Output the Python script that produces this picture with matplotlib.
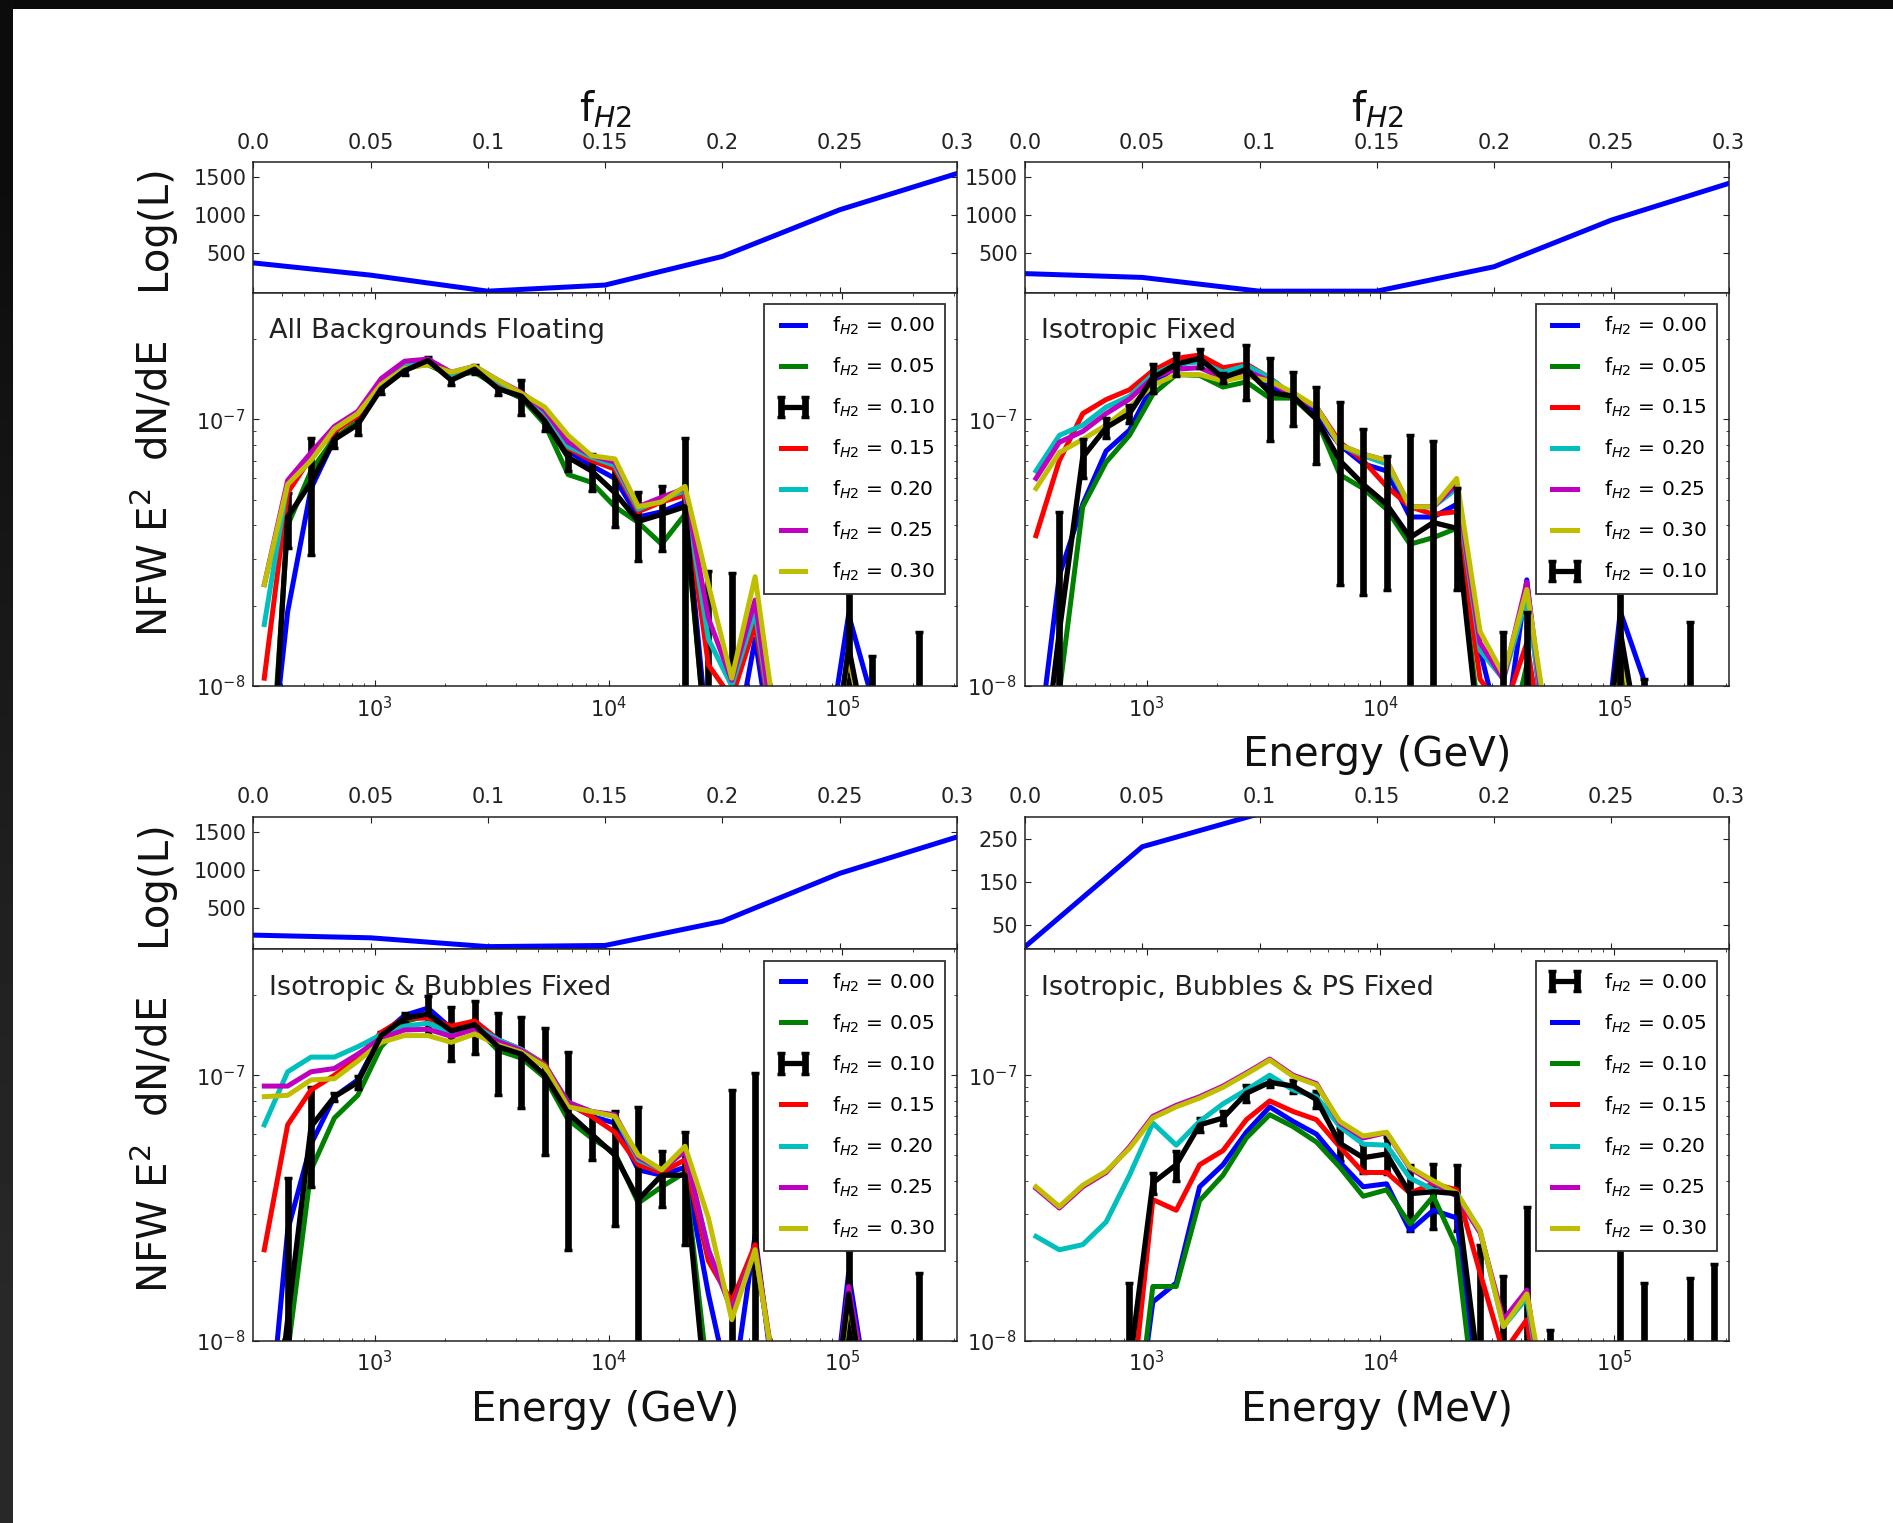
import numpy as np
import matplotlib
matplotlib.use("Agg")
import matplotlib.pyplot as plt
from matplotlib.ticker import FixedLocator, FixedFormatter, NullFormatter

# energy bin centres (MeV)
energy = [336.5, 423.6, 533.3, 671.4, 845.3, 1064, 1340, 1687, 2123, 2673,
          3365, 4236, 5333, 6714, 8453, 10640, 13400, 16870, 21230, 26730,
          33650, 42360, 53330, 67140, 84530, 106400, 134000, 168700, 212300, 267300]

# f_H2 scan for the Log(L) insets
f_h2 = [0.0, 0.05, 0.10, 0.15, 0.20, 0.25, 0.30]
f_ticklabels = ["0.0", "0.05", "0.1", "0.15", "0.2", "0.25", "0.3"]

loglike_tl = [370, 210, 0, 80, 455, 1065, 1540]
loglike_tr = [230, 180, 0, 0, 320, 930, 1410]
loglike_bl = [150, 115, 0, 15, 330, 955, 1430]
loglike_br = [0, 233, 310, 420, 610, 900, 1250]

# NFW spectra, in units of 1e-8
# --- All Backgrounds Floating
tl_b = [0.3, 1.9, 5.5, 8.4, 9.8, 13.2, 15.5, 16.9, 14.3, 15.6, 13.2, 12.0, 10.2, 7.6, 6.7, 6.0, 4.3, 4.5, 4.9, 0.6, 0.5, 1.5, 0.4, 0.4, 0.5, 1.85, 0.9, 0.4, 0.3, 0.3]
tl_g = [0.2, 4.0, 6.4, 8.5, 9.8, 13.5, 15.8, 16.0, 14.6, 15.0, 13.2, 12.0, 9.6, 6.2, 5.8, 4.7, 4.1, 3.4, 4.4, 0.5, 0.4, 0.6, 0.3, 0.3, 0.3, 1.2, 0.4, 0.3, 0.3, 0.3]
tl_k = [0.15, 4.3, 5.8, 8.4, 9.55, 13.0, 15.2, 16.6, 14.0, 15.4, 13.0, 12.2, 9.85, 7.2, 6.4, 5.3, 4.14, 4.4, 4.7, 0.5, 0.4, 0.3, 0.3, 0.3, 0.3, 1.4, 0.5, 0.3, 0.3, 0.3]
tl_k_err = [0.1, 1.0, 2.7, 0.6, 0.8, 0.6, 0.6, 0.5, 0.6, 0.6, 0.7, 1.8, 0.8, 0.8, 1.0, 1.35, 1.2, 1.2, 3.8, 2.2, 2.25, 0.3, 0.3, 0.3, 0.3, 0.9, 0.8, 0.2, 1.3, 0.2]
tl_r = [1.07, 5.3, 7.2, 9.0, 10.3, 13.6, 16.0, 16.5, 14.6, 15.6, 13.6, 12.3, 10.4, 7.8, 7.0, 6.5, 4.5, 4.9, 5.2, 1.2, 0.9, 1.7, 0.5, 0.4, 0.4, 1.3, 0.5, 0.3, 0.3, 0.3]
tl_c = [1.7, 5.8, 7.3, 9.2, 10.5, 13.8, 16.2, 16.4, 14.7, 15.6, 13.8, 12.4, 10.6, 7.9, 7.2, 6.7, 4.6, 5.0, 5.4, 1.5, 1.0, 1.9, 0.5, 0.4, 0.4, 1.3, 0.5, 0.3, 0.3, 0.3]
tl_m = [2.4, 5.9, 7.5, 9.4, 10.7, 14.2, 16.5, 16.8, 15.0, 15.8, 14.0, 12.6, 10.8, 8.2, 7.3, 6.9, 4.7, 5.1, 5.5, 1.8, 1.05, 2.1, 0.5, 0.4, 0.4, 1.3, 0.5, 0.3, 0.3, 0.3]
tl_y = [2.4, 5.7, 7.0, 9.2, 10.5, 13.5, 15.5, 16.0, 15.0, 15.8, 14.0, 12.5, 11.1, 8.7, 7.3, 7.1, 4.7, 4.9, 5.6, 2.4, 1.07, 2.57, 0.6, 0.4, 0.4, 1.3, 0.5, 0.3, 0.3, 0.3]

# --- Isotropic Fixed
tr_b = [0.5, 2.6, 4.8, 7.6, 9.1, 13.5, 15.8, 16.9, 14.5, 15.6, 13.2, 12.4, 10.4, 8.0, 6.8, 6.4, 4.3, 4.3, 4.8, 1.36, 0.6, 2.5, 0.4, 0.3, 0.3, 1.9, 1.06, 0.4, 0.3, 0.3]
tr_g = [0.3, 0.95, 4.7, 6.9, 8.7, 12.4, 14.7, 14.6, 13.2, 13.8, 12.0, 12.0, 10.0, 6.2, 5.5, 4.6, 3.4, 3.6, 3.9, 0.7, 0.5, 1.2, 0.4, 0.3, 0.3, 1.3, 0.5, 0.3, 0.3, 0.3]
tr_r = [3.66, 7.0, 10.5, 11.85, 12.9, 15.2, 16.9, 17.4, 15.6, 16.1, 14.3, 12.2, 11.1, 8.2, 7.0, 5.6, 4.7, 4.4, 4.5, 1.06, 0.8, 1.45, 0.4, 0.3, 0.3, 1.4, 0.5, 0.3, 0.3, 0.3]
tr_c = [6.4, 8.7, 9.5, 11.1, 12.2, 14.7, 16.1, 16.4, 15.0, 15.9, 14.3, 12.2, 11.1, 8.0, 7.3, 6.8, 4.7, 4.7, 5.5, 1.36, 1.06, 2.15, 0.5, 0.3, 0.3, 1.4, 0.5, 0.3, 0.3, 0.3]
tr_m = [6.0, 8.2, 9.0, 10.5, 11.9, 14.3, 15.4, 15.6, 14.3, 15.2, 13.9, 12.2, 11.1, 8.0, 7.4, 7.0, 4.7, 4.7, 5.7, 1.45, 1.06, 2.45, 0.5, 0.3, 0.3, 1.4, 0.5, 0.3, 0.3, 0.3]
tr_y = [5.5, 7.5, 8.4, 9.5, 11.1, 13.4, 14.7, 14.7, 13.9, 14.5, 13.9, 12.6, 11.1, 8.0, 7.4, 7.0, 4.7, 4.7, 6.0, 1.6, 1.1, 2.3, 0.6, 0.3, 0.3, 1.4, 0.5, 0.3, 0.3, 0.3]
tr_k = [0.3, 1.6, 7.2, 9.3, 10.5, 14.3, 16.1, 16.9, 14.3, 15.4, 12.6, 12.2, 10.0, 7.0, 5.7, 4.8, 3.6, 4.1, 3.9, 0.6, 0.6, 1.0, 0.5, 0.3, 0.3, 1.6, 0.5, 0.3, 0.3, 0.3]
tr_k_err = [0.1, 2.9, 1.2, 0.8, 0.8, 1.8, 1.6, 1.4, 0.6, 3.6, 4.3, 2.8, 3.2, 4.6, 3.5, 2.5, 5.1, 4.2, 1.6, 0.3, 1.0, 0.9, 0.2, 0.2, 0.2, 0.8, 0.56, 0.2, 1.44, 0.2]

# --- Isotropic & Bubbles Fixed
bl_b = [0.3, 2.6, 5.5, 8.3, 9.6, 14.1, 16.8, 17.9, 15.0, 16.0, 13.6, 12.3, 10.8, 7.8, 7.0, 6.6, 4.4, 4.2, 4.5, 1.5, 0.6, 2.5, 0.5, 0.3, 0.3, 1.8, 0.5, 0.3, 0.3, 0.3]
bl_g = [0.2, 0.9, 4.4, 6.9, 8.4, 12.8, 15.9, 16.8, 14.3, 15.3, 12.4, 11.6, 9.8, 6.8, 5.8, 5.1, 3.3, 3.8, 4.3, 0.7, 0.5, 1.0, 0.3, 0.3, 0.3, 1.2, 0.4, 0.3, 0.3, 0.3]
bl_k = [0.2, 1.2, 6.4, 8.3, 9.4, 14.1, 16.4, 17.0, 14.7, 15.5, 12.8, 12.0, 10.0, 7.2, 6.0, 5.0, 3.4, 4.2, 4.2, 0.5, 0.3, 1.0, 0.3, 0.3, 0.3, 1.5, 0.4, 0.3, 0.3, 0.3]
bl_k_err = [0.1, 2.9, 2.6, 0.3, 0.5, 0.5, 0.8, 2.8, 3.4, 3.5, 4.4, 4.5, 5.0, 5.0, 1.2, 2.3, 4.2, 1.0, 1.9, 0.2, 8.5, 9.2, 0.2, 0.2, 0.2, 0.7, 0.2, 0.2, 1.5, 0.2]
bl_r = [2.2, 6.5, 8.8, 10.0, 11.6, 14.5, 16.4, 16.4, 15.3, 16.0, 13.6, 12.5, 11.0, 7.8, 7.0, 6.1, 4.6, 4.3, 4.8, 2.0, 1.4, 2.3, 0.6, 0.3, 0.3, 1.5, 0.5, 0.3, 0.3, 0.3]
bl_c = [6.5, 10.3, 11.7, 11.7, 12.8, 14.2, 15.3, 15.7, 14.4, 15.3, 13.6, 12.5, 10.9, 7.9, 7.3, 7.0, 4.8, 4.4, 5.2, 2.2, 1.3, 2.2, 0.6, 0.3, 0.3, 1.5, 0.5, 0.3, 0.3, 0.3]
bl_m = [9.1, 9.1, 10.3, 10.6, 12.0, 13.8, 14.8, 14.9, 14.0, 14.9, 13.4, 12.4, 10.9, 7.9, 7.3, 7.1, 4.9, 4.4, 5.2, 2.2, 1.3, 2.2, 0.6, 0.3, 0.3, 1.6, 0.5, 0.3, 0.3, 0.3]
bl_y = [8.3, 8.4, 9.6, 9.7, 11.3, 13.3, 14.1, 14.1, 13.3, 14.3, 13.0, 12.2, 10.8, 7.6, 7.3, 7.0, 5.0, 4.4, 5.4, 2.9, 1.2, 2.2, 0.6, 0.3, 0.3, 1.4, 0.5, 0.3, 0.3, 0.3]

# --- Isotropic, Bubbles & PS Fixed
br_k = [0.3, 0.3, 0.3, 0.3, 0.8, 3.93, 4.6, 6.5, 6.9, 8.55, 9.4, 9.1, 8.1, 5.54, 4.89, 5.05, 3.58, 3.64, 3.58, 0.7, 0.5, 0.8, 0.4, 0.3, 0.3, 0.5, 0.4, 0.3, 0.3, 0.3]
br_k_err = [0.1, 0.1, 0.1, 0.1, 0.85, 0.35, 0.6, 0.4, 0.4, 0.6, 0.4, 0.5, 0.6, 0.8, 0.6, 0.8, 1.0, 1.0, 1.0, 1.6, 1.25, 2.4, 0.7, 0.1, 0.1, 2.6, 1.25, 0.1, 1.42, 1.65]
br_b = [0.3, 0.3, 0.3, 0.3, 0.3, 1.4, 1.65, 3.8, 4.6, 6.1, 7.6, 6.7, 6.0, 4.7, 3.8, 3.9, 2.6, 3.1, 2.9, 0.5, 0.3, 0.4, 0.3, 0.3, 0.3, 0.3, 0.3, 0.3, 0.3, 0.3]
br_g = [0.3, 0.3, 0.3, 0.3, 0.3, 1.6, 1.6, 3.37, 4.2, 5.8, 7.1, 6.4, 5.6, 4.5, 3.5, 3.7, 2.75, 3.5, 2.25, 0.4, 0.3, 0.3, 0.3, 0.3, 0.3, 0.3, 0.3, 0.3, 0.3, 0.3]
br_r = [0.3, 0.3, 0.3, 0.3, 0.5, 3.4, 3.1, 4.6, 5.2, 6.8, 8.0, 7.3, 6.8, 5.37, 4.3, 4.3, 3.6, 3.9, 3.7, 1.8, 0.9, 1.2, 0.3, 0.3, 0.3, 0.3, 0.3, 0.3, 0.3, 0.3]
br_c = [2.47, 2.2, 2.3, 2.8, 4.2, 6.6, 5.45, 6.7, 7.8, 8.8, 10.0, 8.8, 8.3, 6.4, 5.5, 5.45, 4.1, 3.7, 3.6, 2.6, 1.13, 1.45, 0.4, 0.3, 0.3, 0.3, 0.3, 0.3, 0.3, 0.3]
br_m = [3.75, 3.16, 3.8, 4.3, 5.37, 7.0, 7.7, 8.3, 9.1, 10.2, 11.5, 10.0, 9.3, 6.6, 5.8, 6.08, 4.46, 3.93, 3.5, 2.55, 1.2, 1.55, 0.4, 0.3, 0.3, 0.3, 0.3, 0.3, 0.3, 0.3]
br_y = [3.8, 3.2, 3.85, 4.35, 5.3, 6.9, 7.6, 8.2, 9.0, 10.1, 11.4, 9.9, 9.2, 6.7, 5.9, 6.1, 4.5, 4.0, 3.6, 2.6, 1.13, 1.5, 0.5, 0.3, 0.3, 0.3, 0.3, 0.3, 0.3, 0.3]

BLUE, GREEN, RED = (0, 0, 1), (0, 0.5, 0), (1, 0, 0)
CYAN, MAGENTA, YELLOW = (0, 0.75, 0.75), (0.75, 0, 0.75), (0.75, 0.75, 0)

plt.rcParams.update({
    "font.family": "DejaVu Sans",
    "xtick.direction": "in", "ytick.direction": "in",
    "xtick.top": True, "ytick.right": True,
    "xtick.major.size": 4.5, "ytick.major.size": 4.5,
    "xtick.minor.size": 2.2, "ytick.minor.size": 2.2,
    "xtick.labelsize": 15, "ytick.labelsize": 15,
    "axes.linewidth": 1.1,
    "axes.edgecolor": "#222222",
    "xtick.color": "#222222", "ytick.color": "#222222",
})

fig = plt.figure(figsize=(18.93, 15.23), dpi=100)

# dark frame of the screenshot
band_top = fig.add_axes([0, 1 - 9 / 1523, 1, 9 / 1523])
band_top.set_facecolor("#0a0a0a")
band_top.set_xticks([])
band_top.set_yticks([])
for s in band_top.spines.values():
    s.set_visible(False)
band_left = fig.add_axes([0, 0, 13 / 1893, 1])
band_left.imshow([[0.05], [0.09], [0.13], [0.16]], cmap="gray", vmin=0, vmax=1,
                 aspect="auto", interpolation="bilinear")
band_left.set_axis_off()

col_x = [0.13381, 0.54147]
col_w = 0.37164
rows = [
    (0.80781, 0.08562, 0.54957, 0.25824),
    (0.37669, 0.08706, 0.11970, 0.25699),
]


def draw_panel(col, row, like, like_lim, like_ticks, series, title):
    y_top, h_top, y_bot, h_bot = rows[row]
    ax_l = fig.add_axes([col_x[col], y_top, col_w, h_top])
    ax_s = fig.add_axes([col_x[col], y_bot, col_w, h_bot])

    ax_l.plot(f_h2, like, color=BLUE, lw=3.6)
    ax_l.set_xlim(0, 0.3)
    ax_l.set_ylim(*like_lim)
    ax_l.xaxis.set_major_locator(FixedLocator(f_h2))
    ax_l.xaxis.set_major_formatter(FixedFormatter(f_ticklabels))
    ax_l.set_yticks(like_ticks)
    ax_l.tick_params(axis="x", labeltop=True, labelbottom=False, pad=7)
    ax_l.tick_params(axis="y", pad=5)

    handles = []
    for label, color, vals, err in series:
        y = np.array(vals) * 1e-8
        if err is None:
            h, = ax_s.plot(energy, y, color=color, lw=3.6, label=label)
        else:
            h = ax_s.errorbar(energy, y, yerr=np.array(err) * 1e-8, color="k", lw=3.8,
                              elinewidth=4.8, capsize=3, capthick=2.5, label=label)
        handles.append(h)
    ax_s.set_xscale("log")
    ax_s.set_yscale("log")
    ax_s.set_xlim(302, 3.09e5)
    ax_s.set_ylim(1e-8, 2.98e-7)
    ax_s.yaxis.set_minor_formatter(NullFormatter())
    ax_s.xaxis.set_minor_formatter(NullFormatter())
    ax_s.tick_params(axis="x", which="both", pad=7)
    ax_s.tick_params(axis="y", which="both", pad=6)
    ax_s.text(0.0227, 0.884, title, transform=ax_s.transAxes, fontsize=19.5,
              color="#222222", va="baseline", ha="left")
    leg = ax_s.legend(handles=handles, loc="upper right", fontsize=14.5, numpoints=2,
                      handlelength=1.8, handletextpad=1.05, borderpad=0.53,
                      labelspacing=0.93, borderaxespad=0.57, fancybox=False,
                      framealpha=1)
    leg.get_frame().set_edgecolor("#333333")
    leg.get_frame().set_linewidth(1.3)
    return ax_l, ax_s


def lab(v):
    return "f$_{H2}$ = " + v


draw_panel(0, 0, loglike_tl, (-20, 1687), [500, 1000, 1500], [
    (lab("0.00"), BLUE, tl_b, None),
    (lab("0.05"), GREEN, tl_g, None),
    (lab("0.10"), "k", tl_k, tl_k_err),
    (lab("0.15"), RED, tl_r, None),
    (lab("0.20"), CYAN, tl_c, None),
    (lab("0.25"), MAGENTA, tl_m, None),
    (lab("0.30"), YELLOW, tl_y, None),
], "All Backgrounds Floating")

draw_panel(1, 0, loglike_tr, (-20, 1687), [500, 1000, 1500], [
    (lab("0.00"), BLUE, tr_b, None),
    (lab("0.05"), GREEN, tr_g, None),
    (lab("0.15"), RED, tr_r, None),
    (lab("0.20"), CYAN, tr_c, None),
    (lab("0.25"), MAGENTA, tr_m, None),
    (lab("0.30"), YELLOW, tr_y, None),
    (lab("0.10"), "k", tr_k, tr_k_err),
], "Isotropic Fixed")

draw_panel(0, 1, loglike_bl, (-35, 1695), [500, 1000, 1500], [
    (lab("0.00"), BLUE, bl_b, None),
    (lab("0.05"), GREEN, bl_g, None),
    (lab("0.10"), "k", bl_k, bl_k_err),
    (lab("0.15"), RED, bl_r, None),
    (lab("0.20"), CYAN, bl_c, None),
    (lab("0.25"), MAGENTA, bl_m, None),
    (lab("0.30"), YELLOW, bl_y, None),
], "Isotropic & Bubbles Fixed")

draw_panel(1, 1, loglike_br, (-6, 303), [50, 150, 250], [
    (lab("0.00"), "k", br_k, br_k_err),
    (lab("0.05"), BLUE, br_b, None),
    (lab("0.10"), GREEN, br_g, None),
    (lab("0.15"), RED, br_r, None),
    (lab("0.20"), CYAN, br_c, None),
    (lab("0.25"), MAGENTA, br_m, None),
    (lab("0.30"), YELLOW, br_y, None),
], "Isotropic, Bubbles & PS Fixed")

# shared labels
label_kw = dict(fontsize=29, color="#111111", ha="center", va="center")
fig.text(605 / 1893, 1 - 110 / 1523, "f$_{H2}$", **label_kw)
fig.text(1377 / 1893, 1 - 110 / 1523, "f$_{H2}$", **label_kw)
fig.text(154 / 1893, 1 - 227.5 / 1523, "Log(L)", rotation=90, **label_kw)
fig.text(154 / 1893, 1 - 883 / 1523, "Log(L)", rotation=90, **label_kw)
fig.text(154 / 1893, 1 - 489 / 1523, "NFW E$^2$  dN/dE", rotation=90, **label_kw)
fig.text(154 / 1893, 1 - 1145 / 1523, "NFW E$^2$  dN/dE", rotation=90, **label_kw)
fig.text(1377 / 1893, 1 - 755 / 1523, "Energy (GeV)", **label_kw)
fig.text(605 / 1893, 1 - 1410 / 1523, "Energy (GeV)", **label_kw)
fig.text(1377 / 1893, 1 - 1410 / 1523, "Energy (MeV)", **label_kw)

fig.savefig("out.png", dpi=100)
